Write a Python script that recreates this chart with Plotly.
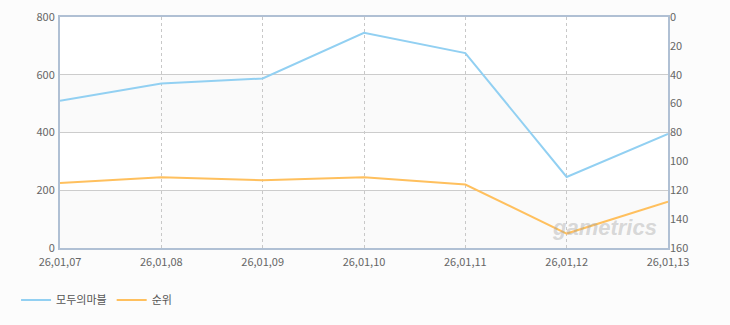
import plotly.graph_objects as go

dates = ["26,01,07", "26,01,08", "26,01,09", "26,01,10", "26,01,11", "26,01,12", "26,01,13"]
players = [510, 570, 587, 745, 675, 246, 395]
rank = [115, 111, 113, 111, 116, 150, 128]

left_ticks = [0, 200, 400, 600, 800]
right_ticks = [0, 20, 40, 60, 80, 100, 120, 140, 160]

x = list(range(len(dates)))

fig = go.Figure()
fig.add_trace(go.Scatter(x=x, y=players, name="모두의마블", mode="lines",
                         line=dict(color="#92d0f2", width=2)))
fig.add_trace(go.Scatter(x=x, y=rank, name="순위", mode="lines", yaxis="y2",
                         line=dict(color="#ffc05e", width=2)))

# alternating bands
for y0, y1 in [(0, 200), (400, 600)]:
    fig.add_shape(type="rect", xref="x domain", yref="y", x0=0, x1=1, y0=y0, y1=y1,
                  fillcolor="#fafafa", line_width=0, layer="below")

fig.add_annotation(text="<b><i>gametrics</i></b>", xref="paper", yref="paper",
                   x=0.985, y=0.09, xanchor="right", yanchor="middle", showarrow=False,
                   font=dict(family="Liberation Sans", size=22, color="rgba(160,160,160,0.4)"))

font = dict(family="Noto Sans CJK KR, Liberation Sans, sans-serif", size=11, color="#666666")

fig.update_layout(
    width=730, height=325,
    margin=dict(l=60, r=62, t=17, b=77, autoexpand=False),
    paper_bgcolor="#fcfcfc", plot_bgcolor="#ffffff",
    font=font,
    showlegend=True,
    legend=dict(orientation="h", x=0.022, xref="container", xanchor="left",
                y=0.077, yref="container", yanchor="middle",
                font=dict(family="Noto Sans CJK KR", size=11, color="#555555"),
                itemwidth=30, tracegroupgap=0, bgcolor="rgba(0,0,0,0)"),
    xaxis=dict(range=[0, 6], tickmode="array", tickvals=x, ticktext=dates,
               showgrid=True, gridcolor="#c8c8c8", griddash="3px,3px", gridwidth=1,
               showline=True, linecolor="#b0c0d4", linewidth=2, mirror=True,
               ticks="", zeroline=False, tickfont=font, ticklabelstandoff=3),
    yaxis=dict(range=[0, 800], tickvals=left_ticks, showgrid=True, gridcolor="#cccccc",
               gridwidth=1, showline=True, linecolor="#b0c0d4", linewidth=2, mirror=True,
               ticks="", zeroline=False, tickfont=font, ticklabelstandoff=1),
    yaxis2=dict(range=[160, 0], tickvals=right_ticks, overlaying="y", side="right",
                showgrid=False, showline=False, ticks="", zeroline=False, tickfont=font,
                ticklabelstandoff=1),
)

fig.write_html("out.html")
